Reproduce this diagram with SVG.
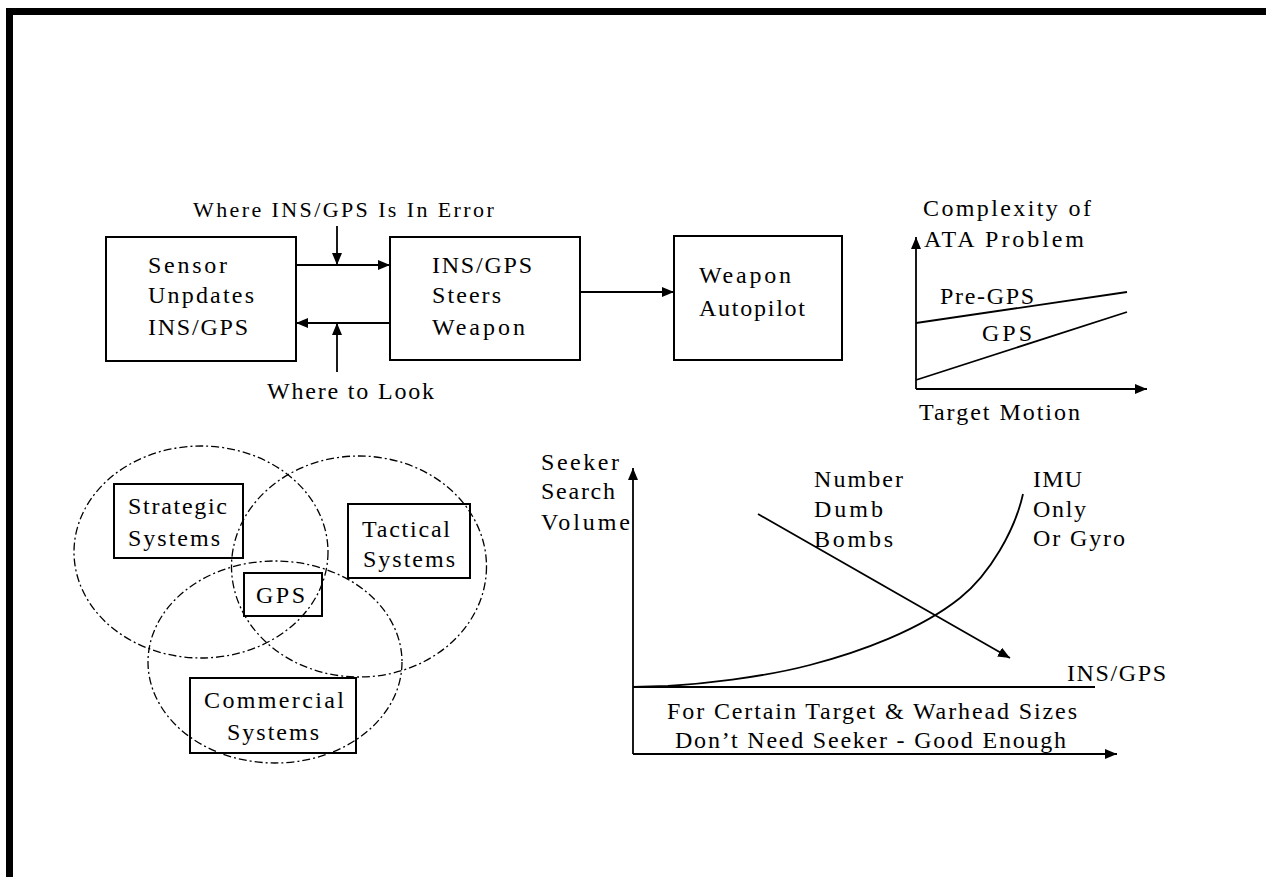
<svg xmlns="http://www.w3.org/2000/svg" width="1266" height="877" viewBox="0 0 1266 877">
<style>
text{font-family:"Liberation Serif","Times New Roman",serif;font-size:24px;fill:#000}
.box{fill:#fff;stroke:#000;stroke-width:2}
.ln{fill:none;stroke:#000;stroke-width:1.8}
.ell{fill:none;stroke:#000;stroke-width:1.3;stroke-dasharray:8 3 2 3}
</style>
<defs>
<marker id="ah" viewBox="0 0 12 10" refX="12" refY="5" markerWidth="12" markerHeight="10" markerUnits="userSpaceOnUse" orient="auto">
<path d="M0,0 L12,5 L0,10 Z" fill="#000"/>
</marker>
</defs>
<rect width="1266" height="877" fill="#fff"/>
<path d="M9.5,877 V11.5 H1266" fill="none" stroke="#000" stroke-width="7"/>

<g id="sensor">
<rect class="box" x="106" y="237" width="190" height="124"/>
<text x="148" y="273" textLength="79" lengthAdjust="spacing">Sensor</text>
<text x="148" y="303" textLength="106" lengthAdjust="spacing">Unpdates</text>
<text x="148" y="335" textLength="100" lengthAdjust="spacing">INS/GPS</text>
</g>
<g id="steers">
<rect class="box" x="390" y="237" width="190" height="123"/>
<text x="432" y="273" textLength="100" lengthAdjust="spacing">INS/GPS</text>
<text x="432" y="303" textLength="69" lengthAdjust="spacing">Steers</text>
<text x="432" y="335" textLength="93" lengthAdjust="spacing">Weapon</text>
</g>
<g id="autopilot">
<rect class="box" x="674" y="236" width="168" height="124"/>
<text x="699" y="283" textLength="92" lengthAdjust="spacing">Weapon</text>
<text x="699" y="316" textLength="106" lengthAdjust="spacing">Autopilot</text>
</g>
<g id="label-error">
<text x="193" y="217" style="font-size:22px" letter-spacing="2.4">Where INS/GPS Is In Error</text>
</g>
<g id="label-look">
<text x="267" y="399" textLength="167" lengthAdjust="spacing">Where to Look</text>
</g>

<g id="connectors">
<line class="ln" x1="296" y1="265" x2="390" y2="265" marker-end="url(#ah)"/>
<line class="ln" x1="390" y1="323" x2="296" y2="323" marker-end="url(#ah)"/>
<line class="ln" x1="337" y1="226" x2="337" y2="265" marker-end="url(#ah)"/>
<line class="ln" x1="337" y1="372" x2="337" y2="323" marker-end="url(#ah)"/>
<line class="ln" x1="580" y1="292" x2="674" y2="292" marker-end="url(#ah)"/>
</g>

<g id="chart-ata">
<line class="ln" x1="916" y1="389" x2="916" y2="237" marker-end="url(#ah)"/>
<line class="ln" x1="916" y1="389" x2="1147" y2="389" marker-end="url(#ah)"/>
<line class="ln" x1="916" y1="323" x2="1127" y2="292"/>
<line class="ln" x1="916" y1="380" x2="1127" y2="312"/>
<text x="923" y="216" textLength="168" lengthAdjust="spacing">Complexity of</text>
<text x="924" y="247" textLength="160" lengthAdjust="spacing">ATA Problem</text>
<text x="940" y="304" textLength="94" lengthAdjust="spacing">Pre-GPS</text>
<text x="982" y="341" textLength="50" lengthAdjust="spacing">GPS</text>
<text x="919" y="420" textLength="161" lengthAdjust="spacing">Target Motion</text>
</g>

<g id="venn">
<ellipse class="ell" cx="201" cy="552" rx="127" ry="106"/>
<ellipse class="ell" cx="359" cy="566.5" rx="127.5" ry="110.5"/>
<ellipse class="ell" cx="275" cy="662" rx="127" ry="101"/>
</g>
<g id="strategic">
<rect class="box" x="114" y="484" width="129" height="74" style="fill:none"/>
<text x="128" y="514" textLength="99" lengthAdjust="spacing">Strategic</text>
<text x="128" y="546" textLength="92" lengthAdjust="spacing">Systems</text>
</g>
<g id="tactical">
<rect class="box" x="348" y="504" width="122" height="74" style="fill:none"/>
<text x="362" y="537" textLength="88" lengthAdjust="spacing">Tactical</text>
<text x="363" y="567" textLength="92" lengthAdjust="spacing">Systems</text>
</g>
<g id="gps">
<rect class="box" x="244" y="573" width="78" height="43" style="fill:none"/>
<text x="256" y="603" textLength="49" lengthAdjust="spacing">GPS</text>
</g>
<g id="commercial">
<rect class="box" x="190" y="678" width="166" height="75" style="fill:none"/>
<text x="204" y="708" textLength="140" lengthAdjust="spacing">Commercial</text>
<text x="227" y="740" textLength="92" lengthAdjust="spacing">Systems</text>
</g>

<g id="chart-seeker">
<line class="ln" x1="633" y1="754" x2="633" y2="468" marker-end="url(#ah)"/>
<line class="ln" x1="633" y1="754" x2="1117" y2="754" marker-end="url(#ah)"/>
<line class="ln" x1="633" y1="687" x2="1095" y2="687"/>
<line class="ln" x1="758" y1="514" x2="1010" y2="658" marker-end="url(#ah)"/>
<path class="ln" d="M633,687 L668,686 C700,684 760,678 810,665 C860,652 920,630 960,598 C990,574 1015,530 1023,494"/>
<text x="541" y="470" textLength="78" lengthAdjust="spacing">Seeker</text>
<text x="541" y="499" textLength="74" lengthAdjust="spacing">Search</text>
<text x="541" y="530" textLength="89" lengthAdjust="spacing">Volume</text>
<text x="814" y="487" textLength="89" lengthAdjust="spacing">Number</text>
<text x="814" y="517" textLength="69" lengthAdjust="spacing">Dumb</text>
<text x="814" y="547" textLength="79" lengthAdjust="spacing">Bombs</text>
<text x="1033" y="487" textLength="49" lengthAdjust="spacing">IMU</text>
<text x="1033" y="517" textLength="53" lengthAdjust="spacing">Only</text>
<text x="1033" y="546" textLength="92" lengthAdjust="spacing">Or Gyro</text>
<text x="1067" y="681" textLength="99" lengthAdjust="spacing">INS/GPS</text>
<text x="667" y="719" textLength="410" lengthAdjust="spacing">For Certain Target &amp; Warhead Sizes</text>
<text x="675" y="748" textLength="391" lengthAdjust="spacing">Don’t Need Seeker - Good Enough</text>
</g>
</svg>
